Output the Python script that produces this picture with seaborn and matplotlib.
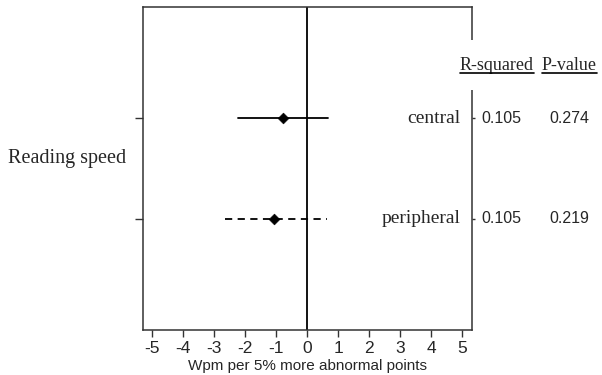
import matplotlib
matplotlib.use("Agg")
import matplotlib.pyplot as plt
from matplotlib.lines import Line2D
import numpy as np
import pandas as pd
import seaborn as sns

# Regression results: effect on reading speed (wpm per 5% more abnormal points)
measures = ["central", "peripheral"]
estimates = [-0.78, -1.06]
ci_low = [-2.22, -2.65]
ci_high = [0.66, 0.63]
r_squared = ["0.105", "0.105"]
p_values = ["0.274", "0.219"]
outcome = "Reading speed"
xticks = [-5, -4, -3, -2, -1, 0, 1, 2, 3, 4, 5]
xlabel = "Wpm per 5% more abnormal points"

sns.set_style("ticks")
plt.rcParams["font.family"] = ["Liberation Sans", "DejaVu Sans"]

rows = np.arange(1, len(measures) + 1)
pts = pd.DataFrame({"measure": measures, "est": estimates, "row": rows})
ci = pd.DataFrame({
    "measure": measures * 2,
    "x": ci_low + ci_high,
    "row": list(rows) * 2,
})

W, H = 602, 375
fig = plt.figure(figsize=(W / 100, H / 100), dpi=100)
ax = fig.add_axes([143 / W, 1 - 330 / H, (472 - 143) / W, (330 - 7) / H])

ax.axvline(0, color="black", lw=1.3, zorder=1)

sns.lineplot(data=ci, x="x", y="row", style="measure", units="measure",
             estimator=None, sort=False, orient="y",
             dashes={"central": "", "peripheral": (4, 3)},
             color="black", lw=1.3, legend=False, ax=ax)
sns.scatterplot(data=pts, x="est", y="row", marker="D", s=30,
                color="black", edgecolor="black", zorder=4, legend=False, ax=ax)

ax.set_xlim(-5.29, 5.32)
ax.set_ylim(3.1, -0.1)
ax.set_xticks(xticks)
ax.set_xticklabels([str(t) for t in xticks], fontsize=12.5)
ax.set_yticks(rows)
ax.set_yticklabels([])
ax.set_xlabel(xlabel, fontsize=11, labelpad=2)
ax.set_ylabel("")
ax.tick_params(axis="x", length=5, width=1, color="#333333", pad=3)
ax.tick_params(axis="y", left=True, right=True, length=6, width=1, color="#333333")
for tk in ax.yaxis.get_major_ticks():
    tk.tick2line.set_markersize(2.5)
for sp in ax.spines.values():
    sp.set_visible(True)
    sp.set_color("#333333")
    sp.set_linewidth(1.1)

serif = ["Liberation Serif", "DejaVu Serif"]
fig.text(8 / W, 1 - 158 / H, outcome, ha="left", va="center",
         fontsize=14.5, family=serif)

for r, m, rs, pv in zip(rows, measures, r_squared, p_values):
    ax.text(4.95, r, m, ha="right", va="center", fontsize=14, family=serif)
    ax.text(1.03, r, rs, transform=ax.get_yaxis_transform(), ha="left", va="center",
            fontsize=11.5)
    ax.text(1.235, r, pv, transform=ax.get_yaxis_transform(), ha="left", va="center",
            fontsize=11.5)

headers = []
for hx, htxt, pad in [(460, "R-squared", 12), (542, "P-value", 2)]:
    t = fig.text(hx / W, 1 - 65 / H, htxt, ha="left", va="center", fontsize=13,
                 family=serif, zorder=5,
                 bbox=dict(facecolor="white", edgecolor="none", pad=pad))
    headers.append(t)

# underline the column headers
fig.canvas.draw()
renderer = fig.canvas.get_renderer()
for t in headers:
    bb = t.get_window_extent(renderer)
    y = bb.y0 + 1
    fig.add_artist(Line2D([bb.x0 / fig.bbox.width, bb.x1 / fig.bbox.width],
                          [y / fig.bbox.height, y / fig.bbox.height],
                          color="black", lw=1.2, zorder=10,
                          transform=fig.transFigure))

fig.savefig("out.png", dpi=100, facecolor="white")
